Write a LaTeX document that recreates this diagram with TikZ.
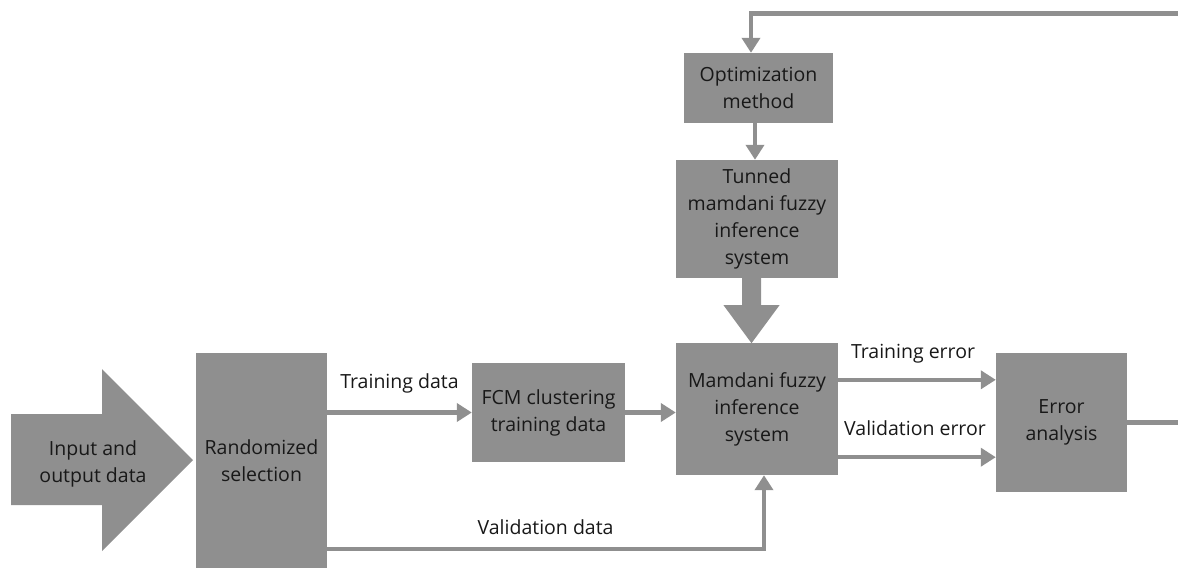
\documentclass[tikz,border=0pt]{standalone}
\usepackage{fontspec}
\setmainfont{Open Sans}
\usetikzlibrary{arrows.meta}
\definecolor{boxgray}{RGB}{143,143,143}
\definecolor{txt}{RGB}{24,24,24}
\begin{document}
\begin{tikzpicture}[x=1pt,y=-1pt,
  txtfont/.style={font=\fontsize{19.5}{27}\selectfont},
  box/.style={fill=boxgray, draw=none, inner sep=0pt, align=center, text=txt, txtfont},
  lbl/.style={text=txt, txtfont, inner sep=0pt, align=center},
  conn/.style={draw=boxgray, line width=4.5pt, -{Triangle[width=18pt,length=15pt]}},
  wire/.style={draw=boxgray, line width=4.5pt}]
\useasboundingbox (0,0) rectangle (1178,568);

% input arrow
\fill[boxgray] (11,414) -- (102,414) -- (102,369) -- (193,460) -- (102,551) -- (102,505) -- (11,505) -- cycle;
\node[lbl] (inp) at (93,463.5) {Input and\\output data};

% boxes
\node[box, minimum width=131pt, minimum height=215pt, text depth=0pt] (rs) at (261.5,460.5) {Randomized\\selection};
\node[box, minimum width=153pt, minimum height=99pt] (fcm) at (548.5,412.5) {FCM clustering\\training data};
\node[box, minimum width=162pt, minimum height=132pt] (mam) at (757,409) {Mamdani fuzzy\\inference\\system};
\node[box, minimum width=131pt, minimum height=139pt] (err) at (1061.5,422.5) {Error\\analysis};
\node[box, minimum width=149pt, minimum height=70pt] (opt) at (758.5,88) {Optimization\\method};
\node[box, minimum width=162pt, minimum height=118pt] (tun) at (757,219) {Tunned\\mamdani fuzzy\\inference\\system};

% thick arrow tun -> mam
\coordinate (c) at ([xshift=-5.5pt]tun.south);
\fill[boxgray, shift={(c)}] (-9.5,-0.5) -- (9.5,-0.5) -- (9.5,27) -- (28,27) -- (0,65) -- (-28,27) -- (-9.5,27) -- cycle;

% connectors
\draw[conn] (rs.east |- fcm.west) -- node[lbl, yshift=29pt] (ltd) {Training data} (fcm.west);
\draw[conn] (fcm.east) -- (fcm.east -| mam.west);
\coordinate (te) at ([yshift=-37pt]mam.north east);
\coordinate (ve) at ([yshift=18pt]mam.south east);
\draw[conn] (te) -- node[lbl, yshift=26pt, xshift=-4pt] (lte) {Training error} (te -| err.west);
\draw[conn] (ve) -- node[lbl, yshift=29pt, xshift=-2pt] (lve) {Validation error} (ve -| err.west);
\coordinate (vd) at ([yshift=-88.5pt]rs.east);
\coordinate (vm) at ([xshift=7pt]mam.south);
\draw[conn] (vd) -- node[lbl, yshift=22pt] (lvd) {Validation data} (vd -| vm) -- (vm);
\coordinate (loopr) at (1192,13.5);
\coordinate (ot) at ([xshift=-7.5pt]opt.north);
\draw[conn] (err.east) -| (loopr) -| (ot);
\draw[conn] ([xshift=-3.5pt]opt.south) -- ([xshift=-3.5pt]opt.south |- tun.north);
\end{tikzpicture}
\end{document}
